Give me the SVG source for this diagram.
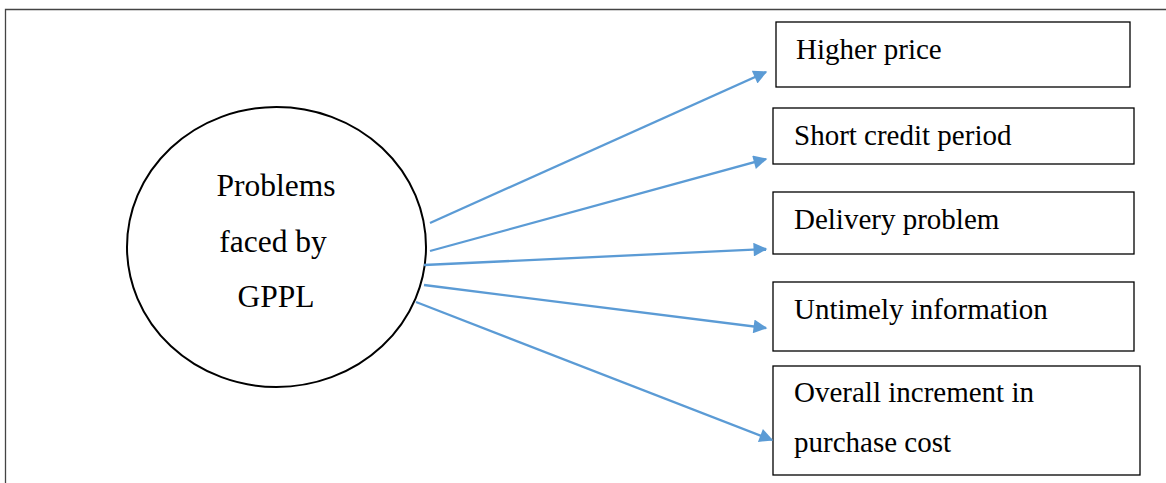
<svg xmlns="http://www.w3.org/2000/svg" width="1166" height="483" viewBox="0 0 1166 483">
<style>
.t{font-family:"Liberation Serif","Times New Roman",serif;fill:#000}
.bt{font-size:29px}
.ct{font-size:31.5px;text-anchor:middle}
.box{fill:#fff;stroke:#000;stroke-width:1.3}
.con{stroke:#5B9BD5;stroke-width:2.3;fill:none;marker-end:url(#ah)}
</style>
<defs>
<marker id="ah" viewBox="0 0 10 10" refX="9" refY="5" markerWidth="7" markerHeight="6" orient="auto" markerUnits="strokeWidth">
<path d="M0,0 L10,5 L0,10 z" fill="#5B9BD5"/>
</marker>
</defs>
<rect width="1166" height="483" fill="#fff"/>
<g id="frame" stroke="#444" stroke-width="1.3" fill="none">
<path d="M5.5,483 V9.5 H1166"/>
</g>
<g id="center">
<ellipse cx="276.5" cy="247" rx="149.5" ry="140" fill="#fff" stroke="#000" stroke-width="2"/>
<text class="t ct" x="276" y="196">Problems</text>
<text class="t ct" x="273" y="252">faced by</text>
<text class="t ct" x="276" y="307">GPPL</text>
</g>
<g id="n1"><rect class="box" x="776" y="22" width="354" height="65"/><text class="t bt" x="796" y="59">Higher price</text></g>
<g id="n2"><rect class="box" x="773" y="108" width="361" height="56"/><text class="t bt" x="794" y="145">Short credit period</text></g>
<g id="n3"><rect class="box" x="773" y="192" width="361" height="62"/><text class="t bt" x="794" y="229">Delivery problem</text></g>
<g id="n4"><rect class="box" x="773" y="282" width="361" height="69"/><text class="t bt" x="794" y="319">Untimely information</text></g>
<g id="n5"><rect class="box" x="773" y="366" width="367" height="109"/><text class="t bt" x="794" y="402">Overall increment in</text><text class="t bt" x="794" y="452">purchase cost</text></g>
<g id="connectors">
<line class="con" x1="430" y1="223" x2="766" y2="72"/>
<line class="con" x1="430" y1="251" x2="766" y2="159"/>
<line class="con" x1="424" y1="265" x2="766" y2="249"/>
<line class="con" x1="424" y1="285" x2="766" y2="328"/>
<line class="con" x1="416" y1="302" x2="772" y2="440"/>
</g>
</svg>
